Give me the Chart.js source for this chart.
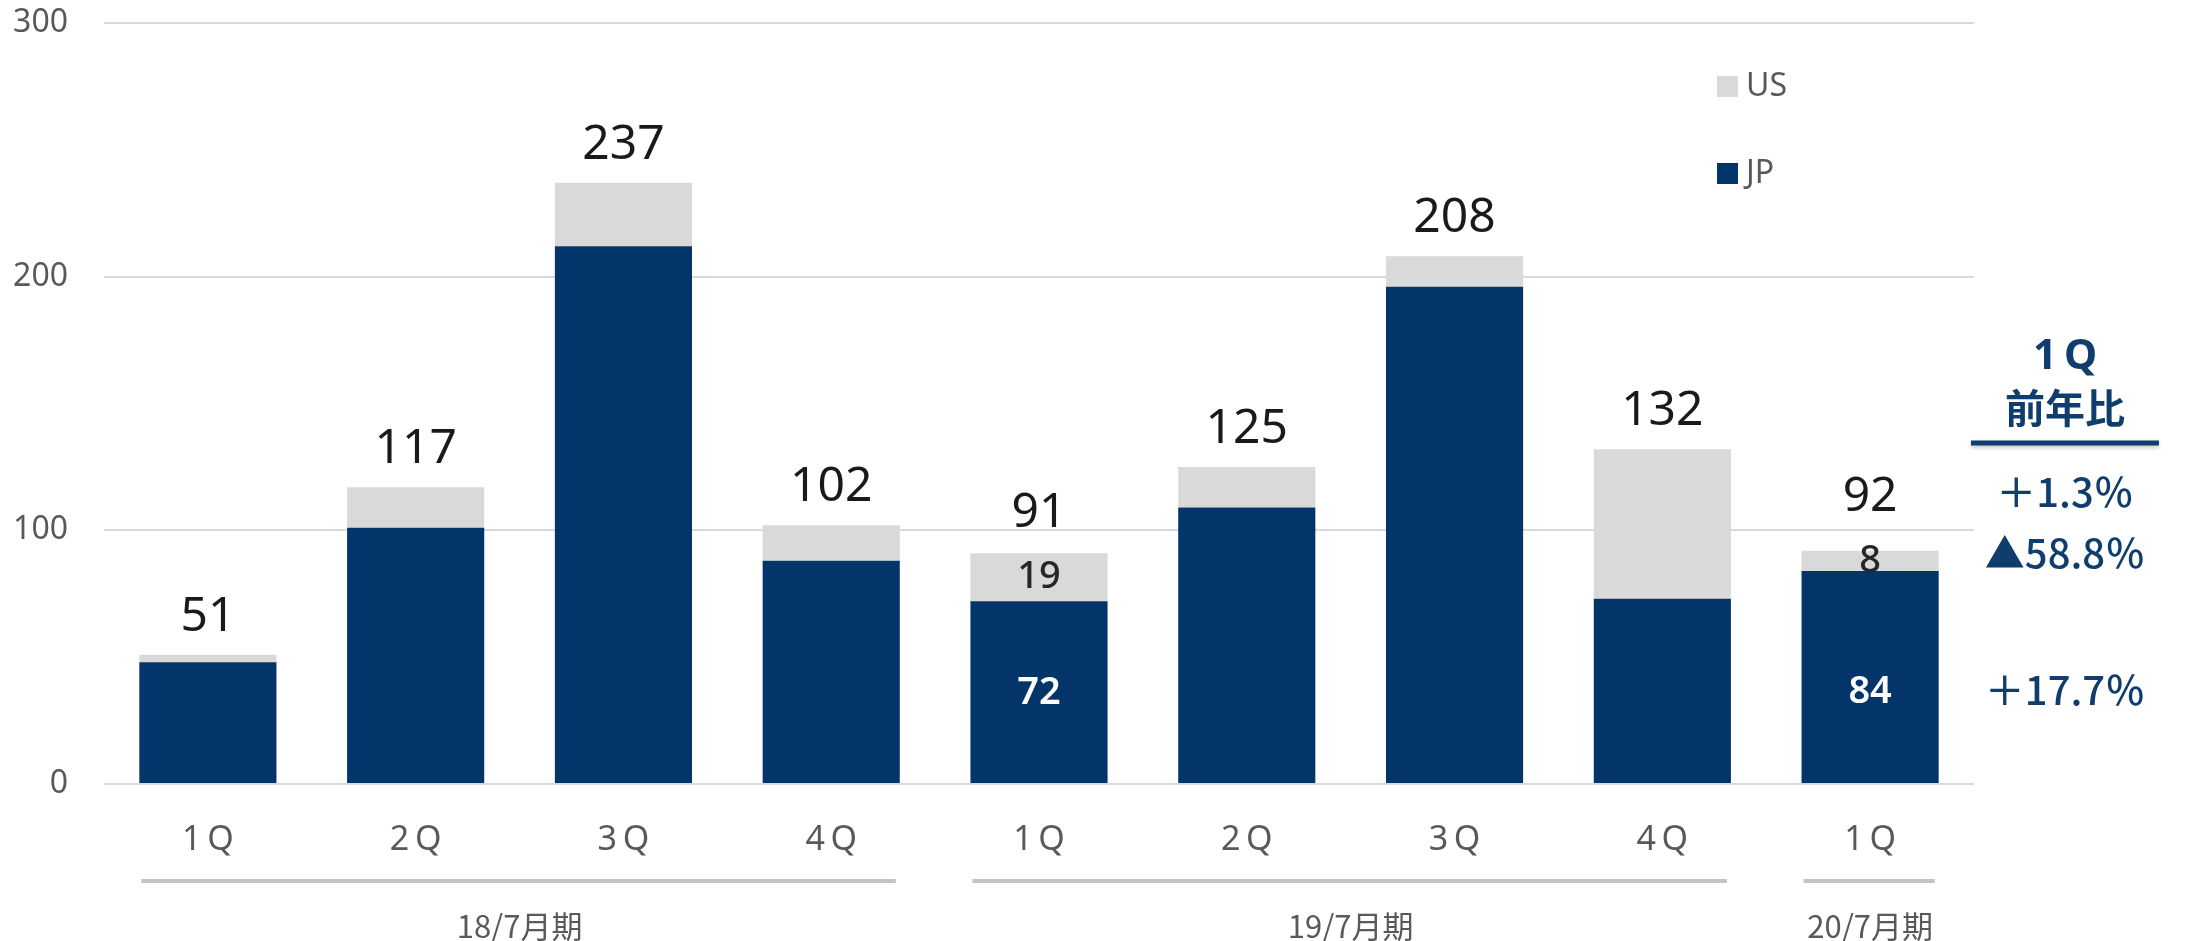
<!DOCTYPE html>
<html>
<head>
<meta charset="utf-8">
<script src="https://cdn.jsdelivr.net/npm/chart.js@4"></script>
<style>
  html, body { margin: 0; padding: 0; background: #ffffff; }
  #wrap { width: 2193px; height: 941px; position: relative; }
</style>
</head>
<body>
<div id="wrap"><canvas id="chart1"></canvas></div>
<script>
// data
const labels = ['1Q', '2Q', '3Q', '4Q', '1Q', '2Q', '3Q', '4Q', '1Q'];
const value_jp = [48, 101, 212, 88, 72, 109, 196, 73, 84];
const value_us = [3, 16, 25, 14, 19, 16, 12, 59, 8];
const totals = [51, 117, 237, 102, 91, 125, 208, 132, 92];
const groups = ['18/7月期', '19/7月期', '20/7月期'];
const groupSizes = [4, 4, 1];
const segmentLabelIdx = [4, 8];
const yoyTitle = ['1Q', '前年比'];
const yoyValues = ['＋1.3％', '▲58.8％', '＋17.7％'];

const NAVY = '#03356a';
const GREY_BAR = '#d9d9d9';
const TEXT_GREY = '#595959';
const BLUE_TEXT = '#0f3d6e';

// spread "1Q" a little, like the original slide
function spaced(s) {
    return s.split('').join('\u2009');
}

// where the labels of a bar go; reused by the yoy column on the right
function labelPositions(chart, i) {
    const y = chart.scales.y;
    const base = y.getPixelForValue(0);
    const jpTop = y.getPixelForValue(value_jp[i]);
    const usTop = y.getPixelForValue(value_jp[i] + value_us[i]);
    const usMid = (jpTop + usTop) / 2;
    let totalBase = usTop - 24;
    if (segmentLabelIdx.includes(i)) totalBase = Math.min(totalBase, usMid - 50);
    // the JP figures sit on one line near the foot of the bars
    const jpMid = Math.max((base + jpTop) / 2, base - 92);
    return { total: totalBase, us: usMid, jp: jpMid };
}

const labelPlugin = {
    id: 'barLabels',
    afterDatasetsDraw(chart) {
        const ctx = chart.ctx;
        const meta = chart.getDatasetMeta(0);
        ctx.save();
        ctx.textAlign = 'center';
        for (let i = 0; i < totals.length; i++) {
            const x = meta.data[i].x;
            const pos = labelPositions(chart, i);
            ctx.font = '400 48px "Noto Sans", sans-serif';
            ctx.fillStyle = '#1a1a1a';
            ctx.textBaseline = 'alphabetic';
            ctx.fillText(String(totals[i]), x, pos.total);

            if (segmentLabelIdx.includes(i)) {
                ctx.textBaseline = 'middle';
                ctx.font = '500 38px "Noto Sans", sans-serif';
                ctx.fillStyle = '#262626';
                ctx.fillText(String(value_us[i]), x, pos.us);
                ctx.font = '600 38px "Noto Sans", sans-serif';
                ctx.fillStyle = '#ffffff';
                ctx.fillText(String(value_jp[i]), x, pos.jp);
            }
        }
        ctx.restore();
    }
};

const groupPlugin = {
    id: 'groupAxis',
    afterDraw(chart) {
        const ctx = chart.ctx;
        const meta = chart.getDatasetMeta(0);
        const bottom = chart.chartArea.bottom;
        ctx.save();
        let start = 0;
        for (let g = 0; g < groups.length; g++) {
            const first = meta.data[start];
            const last = meta.data[start + groupSizes[g] - 1];
            const x1 = first.x - first.width / 2 + 2;
            const x2 = last.x + last.width / 2 - 4;
            ctx.strokeStyle = '#c4c4c4';
            ctx.lineWidth = 4;
            ctx.beginPath();
            ctx.moveTo(x1, bottom + 97);
            ctx.lineTo(x2, bottom + 97);
            ctx.stroke();

            ctx.font = '400 31px "Noto Sans CJK JP", sans-serif';
            ctx.fillStyle = TEXT_GREY;
            ctx.textAlign = 'center';
            ctx.textBaseline = 'middle';
            ctx.fillText(groups[g], (first.x + last.x) / 2, bottom + 142);
            start += groupSizes[g];
        }
        ctx.restore();
    }
};

const legendPlugin = {
    id: 'sideLegend',
    afterDraw(chart) {
        const ctx = chart.ctx;
        const area = chart.chartArea;
        const items = chart.data.datasets.slice().reverse();
        ctx.save();
        items.forEach((ds, k) => {
            const top = area.top + 53 + k * 87;
            ctx.fillStyle = ds.backgroundColor;
            ctx.fillRect(area.right - 257, top, 21, 21);
            ctx.font = '400 32px "Noto Sans", sans-serif';
            ctx.fillStyle = TEXT_GREY;
            ctx.textAlign = 'left';
            ctx.textBaseline = 'middle';
            ctx.fillText(ds.label, area.right - 228, top + 11);
        });
        ctx.restore();
    }
};

const yoyPlugin = {
    id: 'yoyColumn',
    afterDraw(chart) {
        const ctx = chart.ctx;
        const area = chart.chartArea;
        const cx = area.right + 91;
        const last = totals.length - 1;
        const pos = labelPositions(chart, last);
        ctx.save();
        ctx.fillStyle = BLUE_TEXT;
        ctx.textAlign = 'center';
        ctx.textBaseline = 'middle';
        ctx.font = '700 42px "Noto Sans", "Noto Sans CJK JP", sans-serif';
        ctx.fillText(spaced(yoyTitle[0]), cx, 357);
        ctx.font = '700 40px "Noto Sans CJK JP", sans-serif';
        ctx.fillText(yoyTitle[1], cx, 408);

        ctx.shadowColor = 'rgba(0,0,0,0.25)';
        ctx.shadowBlur = 4;
        ctx.shadowOffsetY = 2;
        ctx.strokeStyle = BLUE_TEXT;
        ctx.lineWidth = 5;
        ctx.beginPath();
        ctx.moveTo(area.right - 3, 443);
        ctx.lineTo(area.right + 185, 443);
        ctx.stroke();
        ctx.shadowColor = 'transparent';

        ctx.font = '500 40px "Noto Sans CJK JP", sans-serif';
        ctx.fillText(yoyValues[0], cx, pos.total - 19);
        ctx.fillText(yoyValues[1], cx, pos.us - 8);
        ctx.fillText(yoyValues[2], cx, pos.jp - 2);
        ctx.restore();
    }
};

const data = {
    labels: labels,
    datasets: [
        {
            label: 'JP',
            data: value_jp,
            backgroundColor: NAVY,
            borderWidth: 0
        },
        {
            label: 'US',
            data: value_us,
            backgroundColor: GREY_BAR,
            borderWidth: 0
        }
    ]
};

const options = {
    responsive: true,
    maintainAspectRatio: false,
    animation: false,
    layout: {
        padding: { left: 0, right: 219, top: 23, bottom: 0 }
    },
    datasets: {
        bar: { categoryPercentage: 1, barPercentage: 0.66 }
    },
    plugins: {
        legend: { display: false },
        title: { display: false },
        tooltip: { enabled: false }
    },
    scales: {
        x: {
            stacked: true,
            grid: { display: false, drawTicks: false },
            border: { display: false },
            ticks: {
                color: TEXT_GREY,
                padding: 36,
                font: { family: '"Noto Sans", sans-serif', size: 34 },
                callback: function(v) { return spaced(labels[v]); }
            },
            afterFit(scale) {
                scale.height = 157;
                scale.paddingLeft = 0;
                scale.paddingRight = 0;
            }
        },
        y: {
            stacked: true,
            min: 0,
            max: 300,
            grid: { color: '#d9d9d9', lineWidth: 2, drawTicks: false },
            border: { display: false },
            ticks: {
                stepSize: 100,
                color: TEXT_GREY,
                padding: 36,
                font: { family: '"Noto Sans", sans-serif', size: 32 }
            },
            afterFit(scale) {
                scale.width = 104;
                scale.paddingTop = 0;
                scale.paddingBottom = 0;
            }
        }
    }
};

const ctx = document.getElementById('chart1').getContext('2d');
const myChart = new Chart(ctx, {
    type: 'bar',
    data: data,
    options: options,
    plugins: [labelPlugin, groupPlugin, legendPlugin, yoyPlugin]
});
</script>
</body>
</html>
